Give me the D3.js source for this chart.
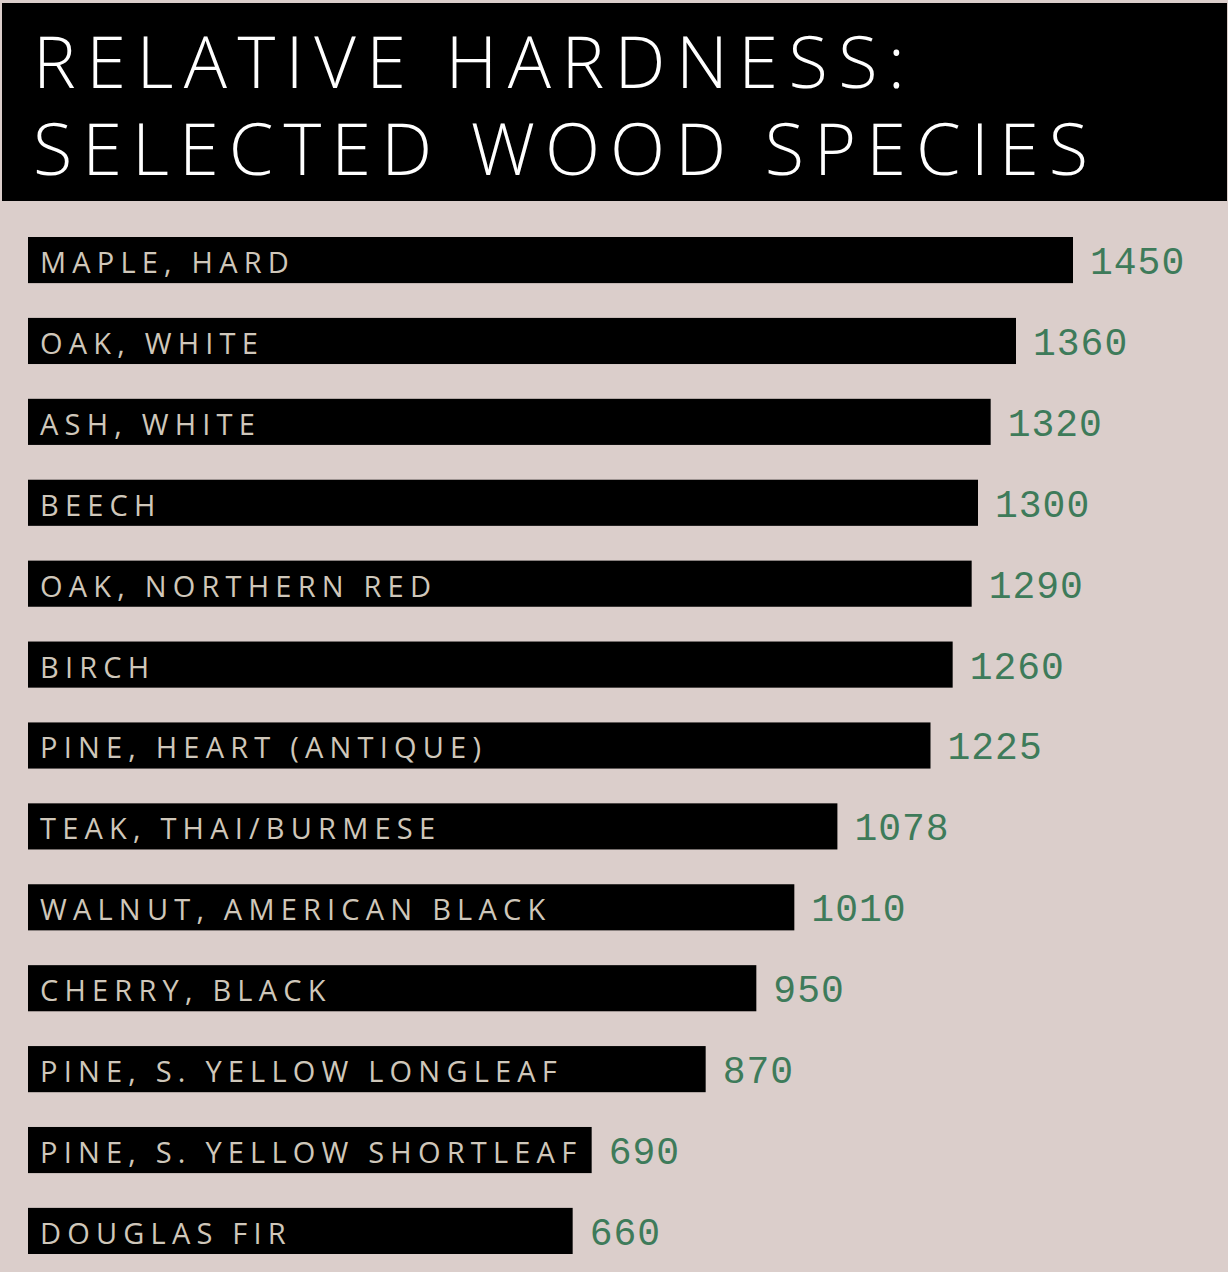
<!DOCTYPE html>
<html>
<head>
<meta charset="utf-8">
<script src="https://cdn.jsdelivr.net/npm/d3@7"></script>
<style>
  body { margin: 0; background: #dbcecb; }
</style>
</head>
<body>
<div id="chart"></div>
<script>
// chart data
var species = ["MAPLE, HARD", "OAK, WHITE", "ASH, WHITE", "BEECH", "OAK, NORTHERN RED",
               "BIRCH", "PINE, HEART (ANTIQUE)", "TEAK, THAI/BURMESE", "WALNUT, AMERICAN BLACK",
               "CHERRY, BLACK", "PINE, S. YELLOW LONGLEAF", "PINE, S. YELLOW SHORTLEAF", "DOUGLAS FIR"];
var hardness = [1450, 1360, 1320, 1300, 1290, 1260, 1225, 1078, 1010, 950, 870, 690, 660];
var titleLines = ["RELATIVE HARDNESS:", "SELECTED WOOD SPECIES"];

var w = 1228,
    h = 1272,
    svg = d3.select("#chart")
            .append("svg")
            .attr("width", w)
            .attr("height", h);

var data = species.map(function(s, i) { return {name: s, value: hardness[i]}; });

// background
svg.append("rect")
    .attr("x", 0).attr("y", 0)
    .attr("width", w).attr("height", h)
    .attr("fill", "#dbcecb");

// black header band with the title
svg.append("rect")
    .attr("x", 2).attr("y", 3)
    .attr("width", w - 3).attr("height", 198)
    .attr("fill", "#000");

var titleWidths = [872, 1055];
svg.selectAll(".title")
    .data(titleLines)
    .enter().append("text")
    .attr("class", "title")
    .attr("x", 33)
    .attr("y", function(d, i) { return 88 + i * 87; })
    .attr("textLength", function(d, i) { return titleWidths[i]; })
    .attr("lengthAdjust", "spacing")
    .attr("font-family", "Open Sans, sans-serif")
    .attr("font-weight", 300)
    .attr("font-size", "72px")
    .attr("fill", "#fff")
    .text(function(d) { return d; });

// scales: bars in the picture do not start from zero
var x = d3.scaleLinear()
    .domain([-200, 1450])
    .range([28, 1073]);

var y = d3.scaleBand()
    .domain(species)
    .range([237, 1254])
    .paddingInner(0.43)
    .paddingOuter(0);

// bars
svg.selectAll(".bar")
    .data(data)
    .enter().append("rect")
    .attr("class", "bar")
    .attr("x", x(-200))
    .attr("y", function(d) { return y(d.name); })
    .attr("width", function(d) { return x(d.value) - x(-200); })
    .attr("height", y.bandwidth())
    .attr("fill", "#000");

// labels inside bars
svg.selectAll(".label")
    .data(data)
    .enter().append("text")
    .attr("class", "label")
    .attr("x", 40)
    .attr("y", function(d) { return y(d.name) + 36; })
    .attr("font-family", "Open Sans, sans-serif")
    .attr("font-size", "29px")
    .attr("letter-spacing", "6.2px")
    .attr("fill", "#cfc7ba")
    .text(function(d) { return d.name; });

// value labels
svg.selectAll(".value")
    .data(data)
    .enter().append("text")
    .attr("class", "value")
    .attr("x", function(d) { return x(d.value) + 17; })
    .attr("y", function(d) { return y(d.name) + 37; })
    .attr("font-family", "Liberation Mono, monospace")
    .attr("font-size", "38px")
    .attr("letter-spacing", "1px")
    .attr("fill", "#3e7b5a")
    .text(function(d) { return d.value; });
</script>
</body>
</html>
